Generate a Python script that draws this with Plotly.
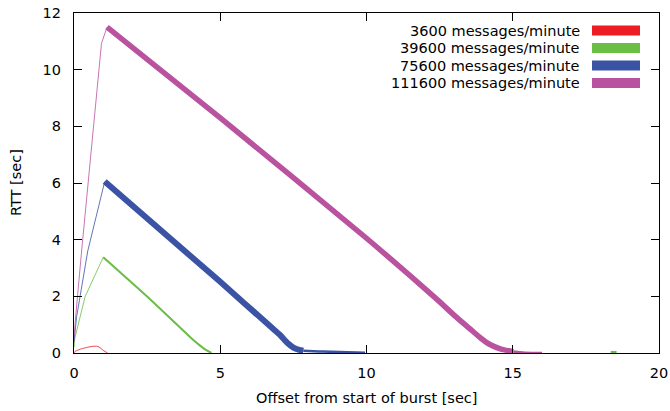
import plotly.graph_objects as go

# ---------------- data ----------------
series_labels = ["3600 messages/minute", "39600 messages/minute",
                 "75600 messages/minute", "111600 messages/minute"]

# 3600 messages/minute
red_rise_x = [0, 0.03, 0.3, 0.55, 0.77, 0.89]
red_rise_y = [0, 0.05, 0.16, 0.22, 0.24, 0.19]
red_fall_x = [0.89, 1.0, 1.15]
red_fall_y = [0.19, 0.09, 0.0]

# 39600 messages/minute
green_rise_x = [0, 0.03, 0.38, 1.0]
green_rise_y = [0.2, 0.53, 1.99, 3.38]
green_fall_x = [1.0, 2.6, 4.08, 4.3, 4.48, 4.7]
green_fall_y = [3.38, 1.9, 0.46, 0.27, 0.13, 0.0]
green_blip_x = [18.35, 18.55]
green_blip_y = [0.03, 0.03]

# 75600 messages/minute
blue_rise_x = [0, 0.09, 0.47, 1.05]
blue_rise_y = [0.4, 1.28, 3.6, 6.05]
blue_fall_x = [1.05, 4.99, 6.7, 7.04, 7.3, 7.5, 7.7, 7.84]
blue_fall_y = [6.05, 2.52, 0.95, 0.64, 0.35, 0.19, 0.11, 0.08]
blue_tail_x = [7.84, 8.5, 9.95]
blue_tail_y = [0.08, 0.05, 0.01]

# 111600 messages/minute
pink_rise_x = [0, 0.05, 0.26, 0.94, 1.13]
pink_rise_y = [0.5, 1.2, 3.6, 10.93, 11.5]
pink_fall_x = [1.13, 5.0, 10.0, 12.4, 13.0, 13.54, 13.9, 14.22, 14.6, 15.02]
pink_fall_y = [11.5, 8.3, 4.05, 1.9, 1.33, 0.85, 0.53, 0.3, 0.14, 0.05]
pink_tail_x = [15.02, 15.42, 16.0]
pink_tail_y = [0.05, 0.01, 0.0]

x_ticks = [0, 5, 10, 15, 20]
y_ticks = [0, 2, 4, 6, 8, 10, 12]

# ---------------- styles ----------------
RED, GREEN, BLUE, PINK = "#ec1c24", "#6abd45", "#3a53a4", "#b9529f"
FONT = "DejaVu Sans"
FS = 14.5

fig = go.Figure()

def add(x, y, color, width, shape="linear", smoothing=1.0):
    fig.add_trace(go.Scatter(x=x, y=y, mode="lines", showlegend=False,
                             line=dict(color=color, width=width, shape=shape,
                                       smoothing=smoothing),
                             hoverinfo="skip"))

add(red_rise_x, red_rise_y, RED, 0.8, "spline")
add(red_fall_x, red_fall_y, RED, 0.8)
add(green_rise_x, green_rise_y, GREEN, 0.8)
add(green_fall_x, green_fall_y, GREEN, 2, "spline", 0.6)
add(green_blip_x, green_blip_y, GREEN, 2.5)
add(blue_rise_x, blue_rise_y, BLUE, 0.8)
add(blue_fall_x, blue_fall_y, BLUE, 6, "spline", 0.5)
add(blue_tail_x, blue_tail_y, BLUE, 2.5, "spline")
add(pink_rise_x, pink_rise_y, PINK, 0.8)
add(pink_fall_x, pink_fall_y, PINK, 5.5, "spline", 0.5)
add(pink_tail_x, pink_tail_y, PINK, 2.5, "spline")

# ---------------- manual legend ----------------
L, R, T, B = 74, 11, 13, 58
W, H = 670, 411
pw, ph = W - L - R, H - T - B

def px(xp):
    return (xp - L) / pw

def py(yp):
    return (H - B - yp) / ph

row_y = [30.5, 48, 65.5, 83]
colors = [RED, GREEN, BLUE, PINK]
annotations = []
shapes = []
for lab, c, yy in zip(series_labels, colors, row_y):
    annotations.append(dict(x=px(582), y=py(yy), xref="paper", yref="paper",
                            text=lab, showarrow=False, xanchor="right",
                            yanchor="middle",
                            font=dict(family=FONT, size=FS, color="black")))
    shapes.append(dict(type="rect", xref="paper", yref="paper",
                       x0=px(592), x1=px(640), y0=py(yy + 5), y1=py(yy - 5),
                       fillcolor=c, line=dict(width=0)))

# axis titles
annotations.append(dict(x=px(366.5), y=py(398), xref="paper", yref="paper",
                        text="Offset from start of burst [sec]", showarrow=False,
                        xanchor="center", yanchor="middle",
                        font=dict(family=FONT, size=FS, color="black")))
annotations.append(dict(x=px(16), y=py(183), xref="paper", yref="paper",
                        text="RTT [sec]", showarrow=False, textangle=-90,
                        xanchor="center", yanchor="middle",
                        font=dict(family=FONT, size=FS, color="black")))

axis_common = dict(showgrid=False, zeroline=False, showline=True,
                   linecolor="black", linewidth=1.2, mirror="ticks",
                   ticks="inside", ticklen=8, tickwidth=1, tickcolor="black",
                   tickfont=dict(family=FONT, size=FS, color="black"))

fig.update_layout(
    width=W, height=H,
    margin=dict(l=L, r=R, t=T, b=B, autoexpand=False),
    paper_bgcolor="white", plot_bgcolor="white",
    xaxis=dict(range=[0, 20], tickvals=x_ticks, ticklabelstandoff=6,
               **axis_common),
    yaxis=dict(range=[0, 12], tickvals=y_ticks, ticklabelstandoff=9,
               **axis_common),
    annotations=annotations, shapes=shapes,
    font=dict(family=FONT, size=FS, color="black"),
)

fig.write_html("out.html",
               config={"displayModeBar": False},
               post_script="document.body.style.margin='0';"
                           "document.body.style.overflow='hidden';")
